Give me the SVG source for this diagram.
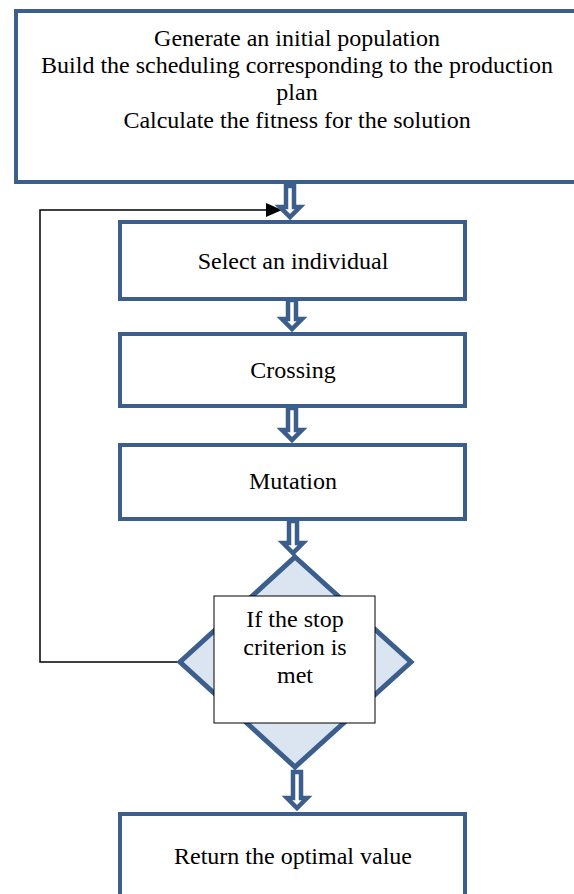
<svg xmlns="http://www.w3.org/2000/svg" width="574" height="894" viewBox="0 0 574 894">
<style>
.box{fill:#ffffff;stroke:#3b5e8c;stroke-width:4}
.dia{fill:#dbe5f1;stroke:#3b5e8c;stroke-width:5}
.tb{fill:#ffffff;stroke:#000000;stroke-width:1}
.t{font-family:"Liberation Serif","Times New Roman",serif;font-size:24px;fill:#000000;text-anchor:middle}
.blk{fill:#ffffff;stroke:#3b5e8c;stroke-width:4.5;stroke-linejoin:miter}
.fb{fill:none;stroke:#000000;stroke-width:1.5}
</style>
<defs>
<marker id="ah2" viewBox="0 0 16 14" refX="16" refY="7" markerWidth="16" markerHeight="14" orient="auto" markerUnits="userSpaceOnUse">
<path d="M0,0 L16,7 L0,14 Z" fill="#000000"/>
</marker>
</defs>
<g id="connectors">
<path class="fb" d="M180,662 H40 V210 H282" marker-end="url(#ah2)"/>
<path class="blk" d="M286,186 H294 V207 H300 L290,217 L280,207 H286 Z"/>
<path class="blk" d="M288,300 H296 V319 H302 L292,329 L282,319 H288 Z"/>
<path class="blk" d="M288,408 H296 V430 H302 L292,440 L282,430 H288 Z"/>
<path class="blk" d="M289,521 H297 V543 H303 L293,553 L283,543 H289 Z"/>
<path class="blk" d="M293,772 H301 V798 H307 L297,808 L287,798 H293 Z"/>
</g>
<g id="start">
<rect class="box" x="16" y="11" width="570" height="171"/>
<text class="t" x="297" y="46">Generate an initial population</text>
<text class="t" x="297" y="73">Build the scheduling corresponding to the production</text>
<text class="t" x="297" y="100">plan</text>
<text class="t" x="297" y="128">Calculate the fitness for the solution</text>
</g>
<g id="select">
<rect class="box" x="120" y="222" width="345" height="77"/>
<text class="t" x="293" y="269">Select an individual</text>
</g>
<g id="crossing">
<rect class="box" x="120" y="334" width="345" height="72"/>
<text class="t" x="293" y="378">Crossing</text>
</g>
<g id="mutation">
<rect class="box" x="120" y="445" width="345" height="74"/>
<text class="t" x="293" y="489">Mutation</text>
</g>
<g id="decision">
<path class="dia" d="M295,557 L411,662 L295,767 L180,662 Z"/>
<rect class="tb" x="214" y="596" width="161" height="127"/>
<text class="t" x="295" y="627">If the stop</text>
<text class="t" x="295" y="655">criterion is</text>
<text class="t" x="295" y="683">met</text>
</g>
<g id="return">
<rect class="box" x="120" y="814" width="345" height="90"/>
<text class="t" x="293" y="864">Return the optimal value</text>
</g>
</svg>
